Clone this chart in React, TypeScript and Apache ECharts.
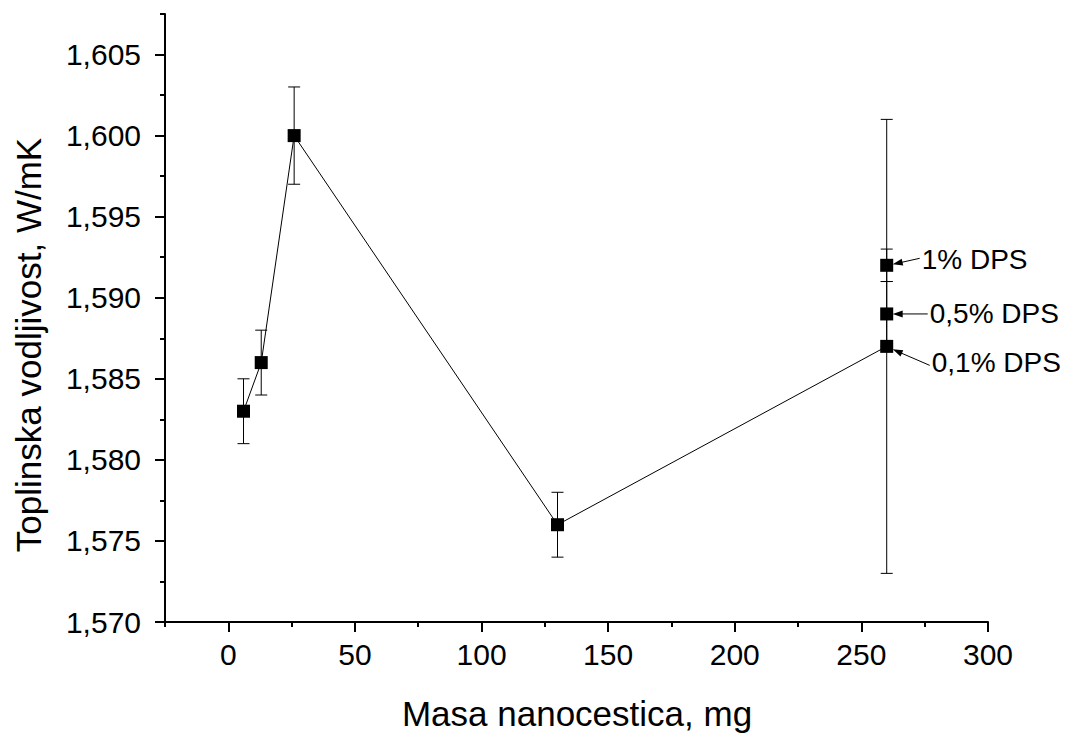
import React, { useEffect, useRef } from "react";
import * as echarts from "echarts";

// ---- data ----
const massMg = [6, 13, 26, 130, 260];
const conductivity = [1.583, 1.586, 1.6, 1.576, 1.587];
const conductivityErr = [0.002, 0.002, 0.003, 0.002, 0.014];

const dpsMassMg = [260, 260];
const dpsConductivity = [1.589, 1.592];
const dpsErr = [0.002, 0.001];

const annotationLabels = ["0,1% DPS", "0,5% DPS", "1% DPS"];
const annotationMass = [260, 260, 260];
const annotationConductivity = [1.587, 1.589, 1.592];

const xMajorTicks = [0, 50, 100, 150, 200, 250, 300];
const xMinorTicks = [-25, 25, 75, 125, 175, 225, 275];
const yMajorTicks = [1.57, 1.575, 1.58, 1.585, 1.59, 1.595, 1.6, 1.605];
const yMinorTicks = [1.5725, 1.5775, 1.5825, 1.5875, 1.5925, 1.5975, 1.6025, 1.6075];

const xTitle = "Masa nanocestica, mg";
const yTitle = "Toplinska vodljivost, W/mK";

// ---- styling ----
const FONT = '"Liberation Sans", Arial, Helvetica, sans-serif';
const annotationLayout = [
  { tip: [6, 3], start: [43, 19], text: [45, 16] },
  { tip: [6, 0], start: [41, 0], text: [43, 0] },
  { tip: [6, -1], start: [33, -7], text: [35, -6] },
];

const fmtY = (v: number) => v.toFixed(3).replace(".", ",");

export default function App() {
  const ref = useRef<HTMLDivElement>(null);

  useEffect(() => {
    if (!ref.current) return;
    const chart = echarts.init(ref.current, undefined, { renderer: "svg" });

    const mainData = massMg.map((x, i) => [x, conductivity[i]]);
    const dpsData = dpsMassMg.map((x, i) => [x, dpsConductivity[i]]);
    const errData = [
      ...massMg.map((x, i) => [x, conductivity[i], conductivityErr[i]]),
      ...dpsMassMg.map((x, i) => [x, dpsConductivity[i], dpsErr[i]]),
    ];
    const annData = annotationMass.map((x, i) => [x, annotationConductivity[i], i]);

    const axisLineStyle = { color: "#000", width: 2 };

    const option: any = {
      animation: false,
      backgroundColor: "#fff",
      grid: { left: 165, right: 87, top: 14, bottom: 111, containLabel: false },
      xAxis: [
        {
          type: "value",
          min: -25,
          max: 300,
          axisLine: { show: true, onZero: false, lineStyle: axisLineStyle },
          axisTick: { show: true, customValues: xMajorTicks, length: 10, lineStyle: axisLineStyle },
          axisLabel: {
            customValues: xMajorTicks,
            color: "#000",
            fontSize: 30,
            fontFamily: FONT,
            margin: 17,
          },
          splitLine: { show: false },
        },
        {
          type: "value",
          min: -25,
          max: 300,
          position: "bottom",
          axisLine: { show: false, onZero: false },
          axisTick: { show: true, customValues: xMinorTicks, length: 5, lineStyle: axisLineStyle },
          axisLabel: { show: false },
          splitLine: { show: false },
        },
      ],
      yAxis: [
        {
          type: "value",
          min: 1.57,
          max: 1.6075,
          axisLine: { show: true, onZero: false, lineStyle: axisLineStyle },
          axisTick: { show: true, customValues: yMajorTicks, length: 10, lineStyle: axisLineStyle },
          axisLabel: {
            customValues: yMajorTicks,
            formatter: (v: number) => fmtY(v),
            color: "#000",
            fontSize: 30,
            fontFamily: FONT,
            margin: 24,
          },
          splitLine: { show: false },
        },
        {
          type: "value",
          min: 1.57,
          max: 1.6075,
          position: "left",
          axisLine: { show: false, onZero: false },
          axisTick: { show: true, customValues: yMinorTicks, length: 5, lineStyle: axisLineStyle },
          axisLabel: { show: false },
          splitLine: { show: false },
        },
      ],
      graphic: [
        {
          type: "text",
          x: 577,
          y: 713,
          style: {
            text: xTitle,
            font: `35px ${FONT}`,
            fill: "#000",
            align: "center",
            verticalAlign: "middle",
            textAlign: "center",
            textVerticalAlign: "middle",
          },
        },
        {
          type: "text",
          x: 28,
          y: 345,
          rotation: Math.PI / 2,
          style: {
            text: yTitle,
            font: `35px ${FONT}`,
            fill: "#000",
            align: "center",
            verticalAlign: "middle",
            textAlign: "center",
            textVerticalAlign: "middle",
          },
        },
      ],
      series: [
        {
          type: "custom",
          z: 1,
          data: errData,
          renderItem: (params: any, api: any) => {
            const x = api.value(0);
            const y = api.value(1);
            const e = api.value(2);
            const top = api.coord([x, y + e]);
            const bot = api.coord([x, y - e]);
            const hw = 6;
            const st = { stroke: "#000", lineWidth: 1 };
            return {
              type: "group",
              children: [
                { type: "line", shape: { x1: top[0], y1: top[1], x2: bot[0], y2: bot[1] }, style: st },
                { type: "line", shape: { x1: top[0] - hw, y1: top[1], x2: top[0] + hw, y2: top[1] }, style: st },
                { type: "line", shape: { x1: bot[0] - hw, y1: bot[1], x2: bot[0] + hw, y2: bot[1] }, style: st },
              ],
            };
          },
        },
        {
          type: "line",
          z: 3,
          data: mainData,
          symbol: "rect",
          symbolSize: 13,
          showAllSymbol: true,
          itemStyle: { color: "#000", opacity: 1 },
          lineStyle: { color: "#000", width: 1 },
        },
        {
          type: "scatter",
          z: 3,
          data: dpsData,
          symbol: "rect",
          symbolSize: 13,
          itemStyle: { color: "#000", opacity: 1 },
        },
        {
          type: "custom",
          z: 4,
          data: annData,
          renderItem: (params: any, api: any) => {
            const x = api.value(0);
            const y = api.value(1);
            const idx = api.value(2);
            const p = api.coord([x, y]);
            const lay = annotationLayout[idx];
            const tip = [p[0] + lay.tip[0], p[1] + lay.tip[1]];
            const start = [p[0] + lay.start[0], p[1] + lay.start[1]];
            const dx = tip[0] - start[0];
            const dy = tip[1] - start[1];
            const len = Math.sqrt(dx * dx + dy * dy);
            const ux = dx / len;
            const uy = dy / len;
            const nx = -uy;
            const ny = ux;
            const hl = 10;
            const hw = 3.5;
            const base = [tip[0] - ux * hl, tip[1] - uy * hl];
            return {
              type: "group",
              children: [
                {
                  type: "line",
                  shape: { x1: start[0], y1: start[1], x2: base[0] + ux * 2, y2: base[1] + uy * 2 },
                  style: { stroke: "#000", lineWidth: 1 },
                },
                {
                  type: "polygon",
                  shape: {
                    points: [
                      tip,
                      [base[0] + nx * hw, base[1] + ny * hw],
                      [base[0] - nx * hw, base[1] - ny * hw],
                    ],
                  },
                  style: { fill: "#000" },
                },
                {
                  type: "text",
                  x: p[0] + lay.text[0],
                  y: p[1] + lay.text[1],
                  style: {
                    text: annotationLabels[idx],
                    font: `28px ${FONT}`,
                    fill: "#000",
                    align: "left",
                    verticalAlign: "middle",
                    textAlign: "left",
                    textVerticalAlign: "middle",
                  },
                },
              ],
            };
          },
        },
      ],
    };

    chart.setOption(option);
    return () => chart.dispose();
  }, []);

  return (
    <div
      ref={ref}
      style={{ position: "fixed", left: 0, top: 0, width: 1075, height: 733, background: "#fff" }}
    />
  );
}
